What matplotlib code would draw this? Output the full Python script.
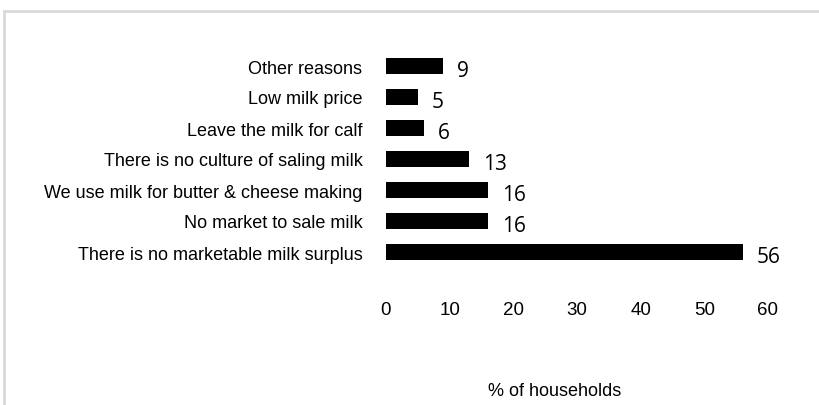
import matplotlib
matplotlib.use("Agg")
import matplotlib.pyplot as plt
from matplotlib.patches import Rectangle

categories = [
    "There is no marketable milk surplus",
    "No market to sale milk",
    "We use milk for butter & cheese making",
    "There is no culture of saling milk",
    "Leave the milk for calf",
    "Low milk price",
    "Other reasons",
]
values = [56, 16, 16, 13, 6, 5, 9]
xticks = [0, 10, 20, 30, 40, 50, 60]
xlabel = "% of households"

W, H = 820, 406
fig = plt.figure(figsize=(W / 100, H / 100), dpi=100)

# outer chart frame (light grey, open at right and bottom)
fig.add_artist(Rectangle((4.5 / W, -0.1), 1.2, 1.1 - 11.5 / H,
                         transform=fig.transFigure, fill=False,
                         edgecolor="#d9d9d9", linewidth=2))

left, right = 386, 768
top, bottom = 51.5, 268.5
ax = fig.add_axes([left / W, 1 - bottom / H, (right - left) / W, (bottom - top) / H])

ypos = list(range(len(categories)))
ax.barh(ypos, values, height=0.53, color="black")
ax.set_xlim(0, 60)
ax.set_ylim(-0.5, len(categories) - 0.5)

ax.set_yticks(ypos)
ax.set_yticklabels(categories, fontsize=13, family="Liberation Sans")
ax.set_xticks(xticks)
ax.set_xticklabels([str(t) for t in xticks], fontsize=13.5, family="Liberation Sans")
ax.tick_params(axis="y", length=0, pad=17)
ax.tick_params(axis="x", length=0, pad=24)
for s in ax.spines.values():
    s.set_visible(False)

for y, v in zip(ypos, values):
    ax.annotate(str(v), (v, y), xytext=(10, -3), textcoords="offset points",
                ha="left", va="center", fontsize=15, family="Open Sans")

fig.text(555 / W, 1 - 392 / H, xlabel, ha="center", va="center",
         fontsize=13, family="Liberation Sans")

fig.savefig("out.png", dpi=100)
